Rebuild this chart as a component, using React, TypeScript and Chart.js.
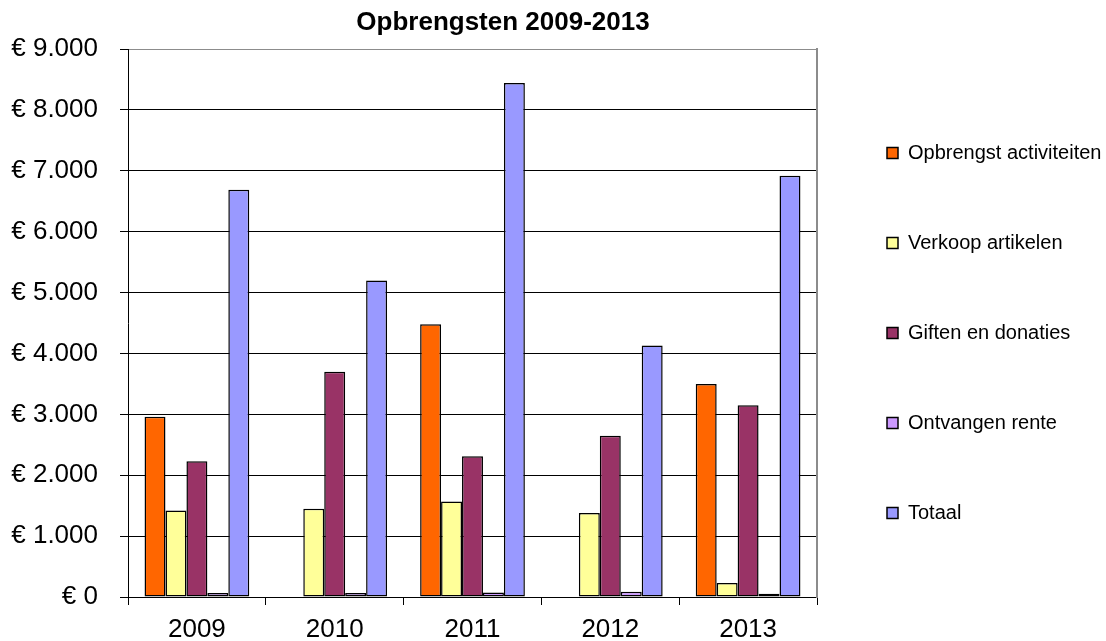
import React, { useEffect, useRef } from 'react';
import { Chart, registerables } from 'chart.js';

Chart.register(...registerables);

const chartTitle = 'Opbrengsten 2009-2013';
const years = ['2009', '2010', '2011', '2012', '2013'];
const seriesNames = [
  'Opbrengst activiteiten',
  'Verkoop artikelen',
  'Giften en donaties',
  'Ontvangen rente',
  'Totaal',
];
const opbrengstActiviteiten: (number | null)[] = [2960, null, 4480, null, 3500];
const verkoopArtikelen = [1420, 1450, 1570, 1380, 230];
const giftenDonaties = [2230, 3700, 2310, 2650, 3150];
const ontvangenRente = [65, 65, 75, 85, 55];
const totaal = [6690, 5200, 8440, 4130, 6920];
const seriesColors = ['#FF6600', '#FFFF99', '#993366', '#CC99FF', '#9999FF'];
const yMax = 9000;
const yStep = 1000;

const FONT = '"Liberation Sans", Arial, Helvetica, sans-serif';

const formatEuro = (v: number) =>
  '€ ' + String(Math.round(v)).replace(/\B(?=(\d{3})+(?!\d))/g, '.');

const titlePlugin = {
  id: 'fixedTitle',
  afterDraw(chart: Chart) {
    const ctx = chart.ctx;
    ctx.save();
    ctx.font = `bold 26px ${FONT}`;
    ctx.fillStyle = '#000';
    ctx.textAlign = 'center';
    ctx.textBaseline = 'middle';
    ctx.fillText(chartTitle, 503, 23);
    ctx.restore();
  },
};

export default function App() {
  const canvasRef = useRef<HTMLCanvasElement | null>(null);

  useEffect(() => {
    document.body.style.margin = '0';
    const canvas = canvasRef.current;
    if (!canvas) return;
    const allSeries = [
      opbrengstActiviteiten,
      verkoopArtikelen,
      giftenDonaties,
      ontvangenRente,
      totaal,
    ];
    const chart = new Chart(canvas, {
      type: 'bar',
      data: {
        labels: years,
        datasets: allSeries.map((data, i) => ({
          label: seriesNames[i],
          data: data as any,
          backgroundColor: seriesColors[i],
          borderColor: '#000',
          borderWidth: 1.5,
          borderSkipped: false,
          yAxisID: 'y',
        })),
      },
      options: {
        responsive: false,
        animation: false,
        devicePixelRatio: 1,
        datasets: {
          bar: {
            categoryPercentage: 0.76,
            barPercentage: 1,
          },
        },
        layout: {
          padding: { top: 49, left: 0, right: 0, bottom: 0 },
        },
        scales: {
          x: {
            grid: {
              offset: true,
              drawOnChartArea: false,
              drawTicks: true,
              tickLength: 8,
              color: '#000',
            },
            border: { color: '#000', width: 1 },
            ticks: {
              color: '#000',
              font: { size: 26, family: FONT },
              padding: 9,
            },
            afterFit: (s: any) => {
              s.height = 44;
            },
          },
          y: {
            min: 0,
            max: yMax,
            ticks: {
              stepSize: yStep,
              color: '#000',
              font: { size: 26, family: FONT },
              padding: 22,
              callback: (v: any) => formatEuro(Number(v)),
            },
            grid: {
              color: (c: any) => (c.tick && c.tick.value === yMax ? '#8c8c8c' : '#000'),
              tickColor: '#000',
              tickLength: 8,
              lineWidth: 1,
            },
            border: { color: '#000', width: 1 },
            afterFit: (s: any) => {
              s.width = 128;
            },
          },
          y2: {
            position: 'right',
            min: 0,
            max: yMax,
            ticks: { display: false },
            grid: { display: false, drawTicks: false },
            border: { color: '#8c8c8c', width: 2 },
            afterFit: (s: any) => {
              s.width = 0;
            },
          },
        },
        plugins: {
          title: { display: false },
          tooltip: { enabled: false },
          legend: {
            position: 'right',
            fullSize: false,
            maxWidth: 289,
            align: 'center',
            title: { display: true, text: '', padding: 4, font: { size: 10, family: FONT } },
            labels: {
              boxWidth: 11,
              boxHeight: 11,
              padding: 70,
              color: '#000',
              font: { size: 20, family: FONT },
            },
          },
        },
      },
      plugins: [titlePlugin],
    });
    return () => chart.destroy();
  }, []);

  return (
    <div style={{ position: 'absolute', left: 0, top: 0, width: 1106, height: 641, background: '#fff' }}>
      <canvas ref={canvasRef} width={1106} height={641} />
    </div>
  );
}
